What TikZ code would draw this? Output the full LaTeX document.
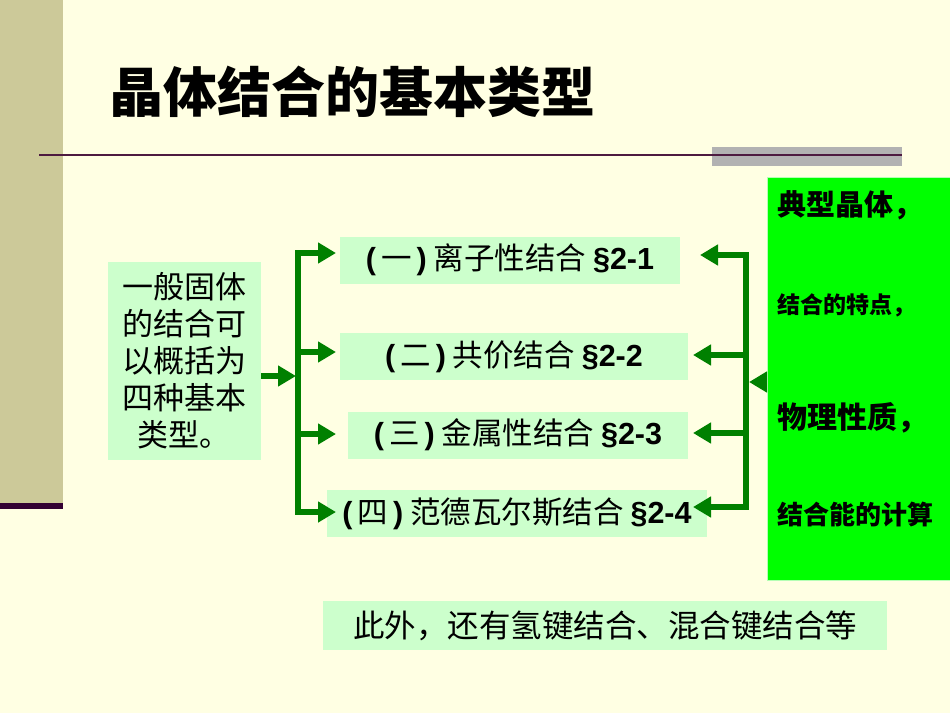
\documentclass[tikz,border=0pt]{standalone}
\usepackage{fontspec}
\setmainfont{Noto Sans CJK SC}
\newfontfamily\lat{Liberation Sans}
\usetikzlibrary{arrows.meta}
\definecolor{bg}{RGB}{255,255,227}
\definecolor{khaki}{RGB}{204,201,153}
\definecolor{rulec}{RGB}{77,26,64}
\definecolor{band}{RGB}{51,0,51}
\definecolor{barc}{RGB}{178,178,178}
\definecolor{pale}{RGB}{204,255,204}
\definecolor{dgreen}{RGB}{0,128,0}
\definecolor{lime}{RGB}{0,255,0}
\definecolor{limeedge}{RGB}{180,255,180}
\newcommand{\sectlabel}[3]{{\lat\bfseries (}\,#1\,{\lat\bfseries )} #2 {\lat\bfseries §#3}}
\begin{document}
\begin{tikzpicture}[x=1pt,y=-1pt,
  pbox/.style={fill=pale, inner sep=0pt},
  sbox/.style={pbox, minimum height=47, font=\fontsize{30.5}{35}\selectfont},
  arr/.style={draw=dgreen, line width=6.5pt, line join=miter, -{Triangle[length=18pt,width=20pt]}},
  gtext/.style={anchor=west, inner sep=0pt, font=\bfseries}
]
\fill[bg] (0,0) rectangle (950,713);
\useasboundingbox (0,0) rectangle (950,713);
% left strip
\fill[khaki] (0,0) rectangle (63,503);
\fill[band] (0,503) rectangle (63,509);
% header rule
\fill[barc] (712,147) rectangle (902,166);
\draw[rulec, line width=2pt] (39,155) -- (902,155);
% title
\node[font=\fontsize{54}{60}\selectfont\bfseries, inner sep=0pt] (title) at (352,92) {晶体结合的基本类型};
% left box
\node[pbox, minimum width=153, minimum height=198, text width=124pt, align=left,
      font=\fontsize{31}{37}\selectfont] (L) at (184.5,361)
  {一般固体\\的结合可\\以概括为\\四种基本\\\hspace*{15pt}类型。};
% section boxes
\node[sbox, minimum width=340] (b1) at (510,260) {\sectlabel{一}{离子性结合}{2-1}};
\node[sbox, minimum width=348] (b2) at (514,356.5) {\sectlabel{二}{共价结合}{2-2}};
\node[sbox, minimum width=340] (b3) at (518,435) {\sectlabel{三}{金属性结合}{2-3}};
\node[sbox, minimum width=380] (b4) at (517,513.5) {\sectlabel{四}{范德瓦尔斯结合}{2-4}};
% right green box
\node[fill=lime, draw=limeedge, line width=1pt, minimum width=183, minimum height=403, inner sep=0pt] (G) at (858.5,378.5) {};
\node[gtext, font=\fontsize{29}{34}\selectfont\bfseries] (g1) at (777,205) {典型晶体，};
\node[gtext, font=\fontsize{23}{28}\selectfont\bfseries] (g2) at (777,305) {结合的特点，};
\node[gtext, font=\fontsize{30}{35}\selectfont\bfseries] (g3) at (777,418) {物理性质，};
\node[gtext, font=\fontsize{26}{31}\selectfont\bfseries] (g4) at (777,515) {结合能的计算};
% bottom note
\node[pbox, minimum width=564, minimum height=49, font=\fontsize{31.5}{36}\selectfont] (note) at (605,625.5) {此外，还有氢键结合、混合键结合等};
% left trunk
\coordinate (lt1) at (298,253);
\coordinate (lt2) at (298,352);
\coordinate (lt3) at (298,434);
\coordinate (lt4) at (298,512);
\coordinate (lx) at (336,0);
\coordinate (inL) at (296,376);
\draw[arr] ([yshift=-15pt]L.east) -- (inL);
\draw[arr] (lt4) -- (lt1) -- (lt1 -| lx);
\draw[arr] (lt1) -- (lt4) -- (lt4 -| lx);
\draw[arr] (lt2) -- (lt2 -| lx);
\draw[arr] (lt3) -- (lt3 -| lx);
% right trunk
\coordinate (rt1) at (746,255);
\coordinate (rt2) at (746,355);
\coordinate (rt3) at (746,433);
\coordinate (rt4) at (746,507);
\coordinate (rx1) at (700,0);
\coordinate (rx) at (693,0);
\coordinate (rin) at (749,382);
\draw[arr] (rt4) -- (rt1) -- (rt1 -| rx1);
\draw[arr] (rt1) -- (rt4) -- (rt4 -| rx);
\draw[arr] (rt2) -- (rt2 -| rx);
\draw[arr] (rt3) -- (rt3 -| rx);
\draw[arr] ([yshift=-3.5pt]G.west) -- (rin);
\end{tikzpicture}
\end{document}
